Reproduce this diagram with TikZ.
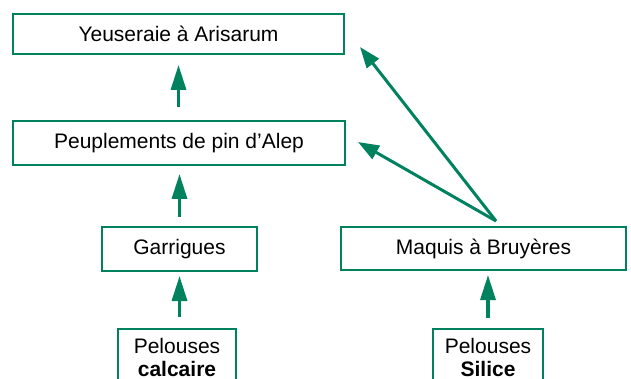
\documentclass[tikz,border=0pt]{standalone}
\usepackage{fontspec}
\setmainfont{Liberation Sans}
\usetikzlibrary{arrows.meta}
\definecolor{vert}{RGB}{0,130,95}
\begin{document}
\begin{tikzpicture}[x=1pt,y=-1pt,
  box/.style={draw=vert, line width=2pt, inner xsep=0pt, inner ysep=0pt,
    font=\fontsize{21}{23}\selectfont, align=center},
  arr/.style={draw=vert, line width=3.3pt, -{Triangle[length=25pt,width=15pt]}},
  darr/.style={draw=vert, line width=3pt, -{Triangle[length=21pt,width=15pt]}}]
\useasboundingbox (0,0) rectangle (631,379);
\clip (0,0) rectangle (631,379);
\node[box, minimum width=331pt, minimum height=40pt] (yeus) at (178.5,34) {Yeuseraie à Arisarum};
\node[box, minimum width=332pt, minimum height=44pt] (peup) at (179,143) {Peuplements de pin d’Alep};
\node[box, minimum width=155pt, minimum height=44pt] (garr) at (179.5,249) {Garrigues};
\node[box, minimum width=285pt, minimum height=43pt] (maq) at (483.5,248.5) {Maquis à Bruyères};
\node[box, anchor=north, minimum width=118pt, inner ysep=9pt] (calc) at (177,328) {Pelouses\\\textbf{calcaire}};
\node[box, anchor=north, minimum width=110pt, inner ysep=9pt] (sil) at (488,328) {Pelouses\\\textbf{Silice}};
\draw[arr, shorten <=13pt, shorten >=10pt] (yeus.south |- peup.north) -- (yeus.south);
\draw[arr, shorten <=9pt, shorten >=8pt] (garr.north) -- (garr.north |- peup.south);
\draw[arr, shorten <=11pt, shorten >=4pt] (garr.south |- calc.north) -- (garr.south);
\draw[arr, shorten <=10pt, shorten >=4pt] (sil.north) -- (sil.north |- maq.south);
\coordinate (fork) at (496,221);
\draw[darr] (fork) -- ([xshift=15pt,yshift=-13pt]yeus.east);
\draw[darr] (fork) -- ([xshift=12pt,yshift=1pt]peup.east);
\end{tikzpicture}
\end{document}
